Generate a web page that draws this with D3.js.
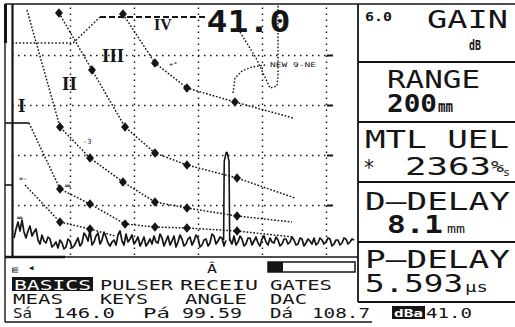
<!DOCTYPE html>
<html>
<head>
<meta charset="utf-8">
<script src="https://cdn.jsdelivr.net/npm/d3@7/dist/d3.min.js"></script>
<style>
  html, body { margin: 0; padding: 0; background: #fff; }
  svg { display: block; }
</style>
</head>
<body>
<svg id="scope" width="515" height="327"></svg>
<script>
// Horizontal axis: sound path in mm (200 mm range); vertical axis: % screen height
const rangeMm = [0, 200];
const ampPct = [0, 100];
const xGrid = [40, 80, 120, 160, 200];
const yGrid = [20, 40, 60, 80];

// DAC curves, one per reference reflector (mm, %)
const curveIVmm   = [73.1, 93.1, 113.1, 143.1, 179.4];
const curveIVpct  = [96.4, 76.8, 66.8, 61.2, 54.8];
const curveIIImm  = [33.1, 53.75, 74.4, 93.1, 113.1, 144.4, 180.6];
const curveIIIpct = [96.8, 74.0, 51.2, 40.8, 36.0, 30.8, 22.8];
const curveIImm   = [13.1, 33.75, 52.5, 73.1, 93.1, 113.1, 144.4, 178.75];
const curveIIpct  = [98.0, 51.2, 38.8, 29.2, 21.2, 18.8, 15.6, 13.2];
const curveImm    = [14.4, 33.75, 52.5, 74.4, 93.1, 113.1, 144.4, 179.4];
const curveIpct   = [52.8, 26.4, 20.4, 12.4, 11.2, 10.8, 9.6, 7.2];
const curve0mm    = [11.9, 33.75, 52.5, 68.1];
const curve0pct   = [28.0, 13.2, 10.4, 7.6];

const curveLabels   = ["I", "II", "III", "IV"];
const curveLabelMm  = [7.5, 35, 60, 92.5];
const curveLabelPct = [57.2, 66, 77.2, 90];

// reference (gate) line and the two short traces near the gate
const gateMm  = [3.75, 41.9, 58.75, 125.6];
const gatePct = [84.8, 84.8, 95.2, 95.2];
const hookMm  = [146.25, 156.25, 165, 169.4, 170, 170];
const hookPct = [89.2, 78.8, 66.8, 67.6, 72, 100];
const arcMm   = [141.9, 143.1, 147.5, 153.75, 161.9];
const arcPct  = [64.8, 70.8, 73.6, 75.2, 76.0];

// A-scan noise floor, sampled every 1.25 mm from 5 mm
const noiseStartMm = 5, noiseStepMm = 1.25;
const noisePct = [
  6.8,10.4, 13.2,9.6, 14.0,9.2, 6.8,9.6, 11.6,7.6, 9.2,10.4, 6.0,4.4, 8.0,5.6, 4.8,7.2, 6.4,3.2,
  4.0,5.2, 2.8,6.0, 4.8,2.4, 3.2,6.4, 5.6,2.8, 3.6,5.2, 6.8,3.6, 4.8,8.8, 7.6,5.6, 10.0,4.0,
  5.2,7.6, 8.8,4.4, 6.0,9.2, 7.2,4.8, 3.6,5.2, 6.0,4.0, 8.0,9.6, 5.6,4.0, 8.4,5.2, 6.4,8.0,
  4.4,5.6, 7.2,3.6, 5.2,7.2, 3.6,4.8, 6.4,4.4, 7.6,5.2, 4.8,8.4, 6.8,3.6, 5.6,7.6, 4.0,5.6,
  7.6,3.2, 5.2,8.0, 6.4,3.6, 4.4,6.4, 7.2,4.0, 5.6,8.0, 6.8,3.2, 4.0,6.0, 6.4,3.6, 4.8,8.4,
  7.6,4.4, 5.6,7.2, 6.8,3.6, 6.0,8.4, 6.0,4.4, 7.6,4.0, 5.2,7.6, 6.4,3.6, 4.4,6.8, 6.8,4.0,
  5.6,7.2, 4.8,3.6, 6.4,7.6, 5.2,4.0, 6.8,5.2, 4.8,7.2, 6.0,3.6, 4.4,6.4, 6.4,4.4, 5.2,7.2,
  6.0,4.0, 4.4,6.8, 6.4,3.6, 4.8,6.4, 5.6,4.4, 6.8,4.0, 4.8,6.8, 6.0,4.4, 5.2,6.8, 6.4,3.6,
  4.4,6.0, 6.0,4.0, 4.8,6.8, 6.4,4.4, 5.2,6.4, 6.0];

// gated echo and readouts
const gateAmp = 41.0;
const soundPath = 146.0, dDelay = 8.1;
const echoCenterMm = soundPath - dDelay;
const echoOffsetMm = [-1.9, -1.5, -0.3, 0.3, 1.5, 1.9];
const echoPct      = [6.0, 37.5, gateAmp, gateAmp, 37.5, 5.6];

const x = d3.scaleLinear().domain(rangeMm).range([6, 326]);
const y = d3.scaleLinear().domain(ampPct).range([255, 5]);

const ink = "#151515";
const mono = "'DejaVu Sans Mono', 'Liberation Mono', monospace";
const svg = d3.select("#scope");

function seg(x1, y1, x2, y2, w) {
  svg.append("line").attr("x1", x1).attr("y1", y1).attr("x2", x2).attr("y2", y2)
    .attr("stroke", ink).attr("stroke-width", w || 1.5);
}
function label(t, px, py, size, w, opts) {
  opts = opts || {};
  const el = svg.append("text").attr("x", px).attr("y", py).text(t)
    .attr("font-family", opts.family || mono).attr("font-size", size)
    .attr("font-weight", opts.weight || "normal").attr("fill", opts.fill || ink);
  if (w) el.attr("textLength", w).attr("lengthAdjust", "spacingAndGlyphs");
  return el;
}

// ---- grid from the scales' axes ----
const gx = svg.append("g").attr("transform", "translate(0,255)")
  .call(d3.axisBottom(x).tickValues(xGrid).tickSize(-250).tickFormat(""));
gx.select(".domain").remove();
gx.selectAll("line").attr("stroke", ink).attr("stroke-width", 1.4).attr("stroke-dasharray", "1.5,4.5");

const gy = svg.append("g").attr("transform", "translate(12,0)")
  .call(d3.axisLeft(y).tickValues(yGrid).tickSize(-315).tickFormat(""));
gy.select(".domain").remove();
gy.selectAll("line").attr("stroke", ink).attr("stroke-width", 1.4).attr("stroke-dasharray", "1.5,4.5");

const gr = svg.append("g").attr("transform", "translate(327,0)")
  .call(d3.axisRight(y).tickValues(yGrid).tickSize(6).tickFormat(""));
gr.select(".domain").remove();
gr.selectAll("line").attr("stroke", ink).attr("stroke-width", 2);

// ---- frame ----
seg(5, 4, 515, 4, 1.6);
seg(5, 4, 5, 322, 1.4);
seg(5.5, 4, 5.5, 43, 3);
seg(12.5, 4, 12.5, 257, 2.2);
seg(5, 257, 358, 257, 1.6);
seg(5, 257, 65, 257, 2.6);
seg(5, 322, 372, 322, 1.4);
seg(358, 4, 358, 302, 1.8);
[62, 122, 182, 242, 302].forEach(v => seg(358, v, 515, v, 1.8));

// ---- traces ----
const line = d3.line().x(d => x(d[0])).y(d => y(d[1]));

// noise floor
const noise = noisePct.map((v, i) => [noiseStartMm + i * noiseStepMm, v]);
svg.append("path").attr("d", line(noise)).attr("fill", "none")
  .attr("stroke", ink).attr("stroke-width", 1.7).attr("stroke-linejoin", "round");

// gated echo (outlined)
svg.append("path").attr("d", line(d3.zip(echoOffsetMm.map(o => echoCenterMm + o), echoPct)))
  .attr("fill", "#fff").attr("stroke", ink).attr("stroke-width", 1.6);

// reference line
const gatePts = d3.zip(gateMm, gatePct);
svg.append("path").attr("d", line(gatePts.slice(0, 3))).attr("fill", "none")
  .attr("stroke", ink).attr("stroke-width", 1.4).attr("stroke-dasharray", "1.6,2");
svg.append("path").attr("d", line(gatePts.slice(2))).attr("fill", "none")
  .attr("stroke", ink).attr("stroke-width", 2).attr("stroke-dasharray", "6,3");

[[hookMm, hookPct], [arcMm, arcPct]].forEach(([m, p]) => {
  svg.append("path").attr("d", line(d3.zip(m, p))).attr("fill", "none")
    .attr("stroke", ink).attr("stroke-width", 1.4).attr("stroke-dasharray", "1.6,1.8");
});

// DAC curves with their measured points
const curves = [
  { mm: curveIVmm,  pct: curveIVpct,  marks: [0, 3] },
  { mm: curveIIImm, pct: curveIIIpct, marks: [0, 5] },
  { mm: curveIImm,  pct: curveIIpct,  marks: [1, 6] },
  { mm: curveImm,   pct: curveIpct,   marks: [1, 6] },
  { mm: curve0mm,   pct: curve0pct,   marks: [1, 2] }
];
const marker = d3.symbol().type(d3.symbolDiamond).size(28);
curves.forEach(c => {
  const pts = d3.zip(c.mm, c.pct);
  svg.append("path").attr("d", line(pts)).attr("fill", "none")
    .attr("stroke", ink).attr("stroke-width", 1.45).attr("stroke-dasharray", "1.7,1.7");
  svg.selectAll(null).data(pts.slice(c.marks[0], c.marks[1] + 1)).enter().append("path")
    .attr("d", marker).attr("fill", ink)
    .attr("transform", d => `translate(${x(d[0])},${y(d[1])}) scale(1.4,0.95)`);
});
// start ticks of the two lowest curves
seg(5, y(curveIpct[0]), x(curveImm[0]), y(curveIpct[0]), 1.6);
seg(5, y(curve0pct[0]), 12, y(curve0pct[0]), 1.6);

// curve numerals
curveLabels.forEach((t, i) => {
  label(t, x(curveLabelMm[i]), y(curveLabelPct[i]), i === 3 ? 16 : 19, null,
    { family: "'Liberation Serif', 'DejaVu Serif', serif", weight: "bold" });
});

// small point tags
label("-3", 83, 144, 7);
label("+\u00b0", 169, 67, 7);
label("\u2550", 65, 189, 9);
label("=-", 19, 181, 7);
label("\u2550", 17, 221, 9);
label("NEW 9-NE", 270, 67, 6.5, 46);

// gated amplitude readout
label(gateAmp.toFixed(1), 206.5, 32, 30, 84, { weight: "bold" });

// ---- right-hand parameter panel ----
label("6.0", 365, 21, 13, 27, { weight: "bold" });
label("GAIN", 427, 28, 25, 81);
label("dB", 469, 50, 14, 12, { weight: "bold" });
label("RANGE", 387, 88, 25, 93);
label("200", 387, 112, 25, 50, { weight: "bold" });
label("mm", 438, 112, 15, 15, { weight: "bold" });
label("MTL UEL", 365, 148, 25, 144);
label("*", 363, 175, 21, 12);
label("2363", 405, 175, 25, 86);
label("%", 491, 172, 16, 13);
label("s", 503, 176, 10, 7);
label("D\u2013DELAY", 365, 210, 25, 145);
label("8.1", 387, 233, 25, 56, { weight: "bold" });
label("mm", 447, 233, 13, 18);
label("P\u2013DELAY", 365, 268, 25, 145);
label("5.593", 365, 292, 25, 98);
label("\u03bcs", 465, 292, 14, 23);

// ---- soft-key menu and readouts ----
label("m", 9, 272, 10).attr("transform", "rotate(-90 14 268)");
label("\u25c2", 28, 271, 11);
label("\u00c2", 207, 273, 13, 10);
svg.append("rect").attr("x", 268).attr("y", 262).attr("width", 87).attr("height", 10)
  .attr("fill", "none").attr("stroke", ink).attr("stroke-width", 1.5);
svg.append("rect").attr("x", 268).attr("y", 262).attr("width", 15).attr("height", 10).attr("fill", ink);

svg.append("rect").attr("x", 12).attr("y", 277).attr("width", 81).attr("height", 14).attr("fill", ink);
label("BASICS", 14, 290, 14, 77, { fill: "#fff" });
label("PULSER", 100, 290, 14, 73);
label("RECEIU", 180, 290, 14, 78);
label("GATES", 270, 290, 14, 62);
label("MEAS", 13, 304, 14, 50);
label("KEYS", 100, 304, 14, 48);
label("ANGLE", 185, 304, 14, 62);
label("DAC", 270, 304, 14, 37);
label("S\u00e1", 13, 318, 14, 19);
label(soundPath.toFixed(1), 53, 318, 14, 62);
label("P\u00e1", 143, 318, 14, 27);
label("99.59", 182, 318, 14, 60);
label("D\u00e1", 270, 318, 14, 23);
label("108.7", 312, 318, 14, 58);
svg.append("rect").attr("x", 392).attr("y", 306).attr("width", 33).attr("height", 13).attr("fill", ink);
label("dBa", 394, 317, 11, 29, { fill: "#fff", weight: "bold" });
label(gateAmp.toFixed(1), 426, 318, 14, 46);
</script>
</body>
</html>
